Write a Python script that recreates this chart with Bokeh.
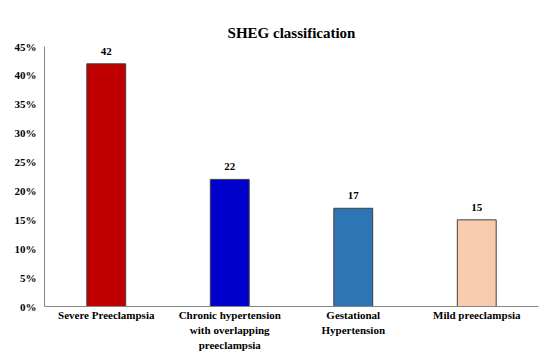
from bokeh.plotting import figure
from bokeh.models import (ColumnDataSource, FixedTicker, PrintfTickFormatter, LabelSet, Title,
                          CategoricalAxis, FactorRange)
from bokeh.embed import file_html
from bokeh.resources import INLINE

categories = ["Severe Preeclampsia", "Chronic hypertension with overlapping preeclampsia",
              "Gestational Hypertension", "Mild preeclampsia"]
tick_labels = ["Severe Preeclampsia", "Chronic hypertension\nwith overlapping\npreeclampsia",
               "Gestational\nHypertension", "Mild preeclampsia"]
values = [42, 22, 17, 15]
colors = ["#C00000", "#0000CC", "#2E75B6", "#F8CBAD"]
y_ticks = [0, 5, 10, 15, 20, 25, 30, 35, 40, 45]

FONT = "Liberation Serif"

src = ColumnDataSource(dict(cat=categories, val=values, color=colors,
                            lab=[str(v) for v in values]))

p = figure(x_range=categories, y_range=(0, 45), width=544, height=353,
           output_backend="svg", toolbar_location=None,
           min_border_left=44, min_border_right=6, min_border_top=10, min_border_bottom=10)

# spacer title at the very top, real title closer to the plot
p.title.text = " "
p.title.text_font_size = "12px"
p.title.standoff = 0
p.add_layout(Title(text="SHEG classification", align="center", text_font=FONT,
                   text_font_size="15px", text_font_style="bold", text_color="black",
                   standoff=12), "above")

p.vbar(x="cat", top="val", width=0.315, fill_color="color", line_color="#404040",
       line_width=1, source=src)

labels = LabelSet(x="cat", y="val", text="lab", source=src, text_align="center",
                  text_baseline="bottom", y_offset=9, text_font=FONT,
                  text_font_size="11px", text_font_style="bold", text_color="black")
p.add_layout(labels)

p.xgrid.visible = False
p.ygrid.visible = False
p.outline_line_color = None

p.yaxis.ticker = FixedTicker(ticks=y_ticks)
p.yaxis.formatter = PrintfTickFormatter(format="%d%%")

def style(ax):
    ax.axis_line_color = "#868686"
    ax.axis_line_width = 1
    ax.major_tick_line_color = None
    ax.minor_tick_line_color = None
    ax.major_label_text_font = FONT
    ax.major_label_text_font_size = "11px"
    ax.major_label_text_font_style = "bold"
    ax.major_label_text_color = "black"
    ax.major_tick_out = 0
    ax.major_tick_in = 0

style(p.yaxis[0])
p.yaxis.major_label_standoff = 8
p.xaxis[0].visible = False

# one categorical axis per text line of the category labels
split = [t.split("\n") for t in tick_labels]
for k in range(3):
    facs = []
    for i, s in enumerate(split):
        txt = s[k] if len(s) > k else " " * (i + 1)
        facs.append(txt)
    name = f"line{k}"
    p.extra_x_ranges[name] = FactorRange(factors=facs, range_padding=0.0)
    ax = CategoricalAxis(x_range_name=name)
    style(ax)
    if k > 0:
        ax.axis_line_color = None
    ax.major_label_standoff = 2 if k == 0 else 0
    p.add_layout(ax, "below")

p.x_range.range_padding = 0.0

open("out.html", "w").write(file_html(p, INLINE))
